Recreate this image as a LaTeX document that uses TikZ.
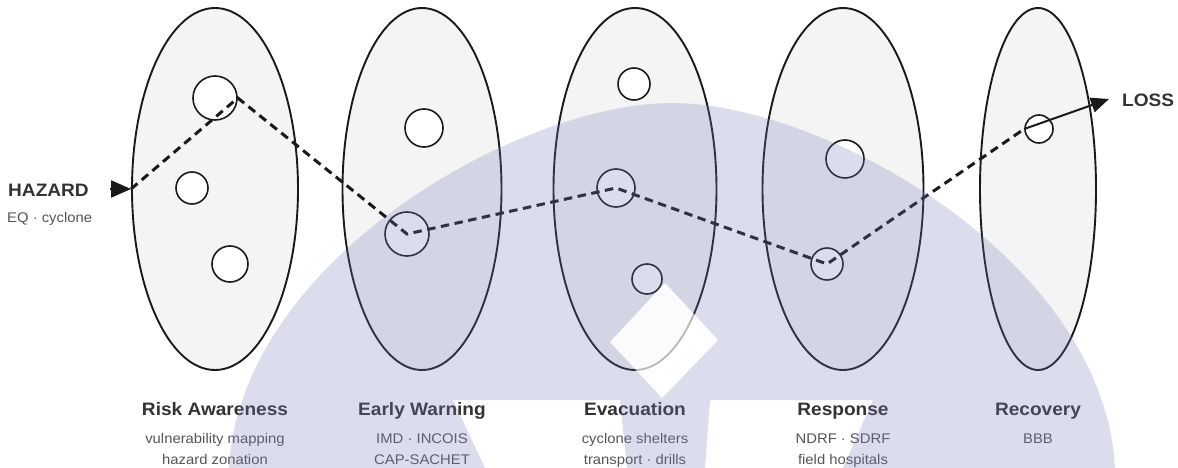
\documentclass[tikz,border=0pt]{standalone}
\usepackage{fontspec}
\setmainfont{Liberation Sans}[FakeStretch=1.06]
\usetikzlibrary{shapes.geometric,arrows.meta}
\definecolor{ink}{HTML}{1A1A1A}
\definecolor{efill}{HTML}{F4F4F4}
\definecolor{titlec}{HTML}{333333}
\definecolor{subc}{HTML}{555555}
\definecolor{wmc}{RGB}{115,123,183}
\tikzset{
  stage/.style={ellipse, draw=ink, line width=1.9pt, fill=efill, inner sep=0pt},
  dot/.style={circle, draw=ink, line width=1.6pt, fill=white, inner sep=0pt},
  route/.style={draw=ink, line width=3pt, dash pattern=on 8.5pt off 5.5pt},
  tipline/.style={draw=ink, line width=2pt, -{Triangle[length=20pt,width=17pt]}},
  title/.style={font=\bfseries\fontsize{18}{21}\selectfont, text=titlec, inner sep=0pt, anchor=base},
  sub/.style={font=\fontsize{14}{17}\selectfont, text=subc, inner sep=0pt, anchor=base},
  wm/.style={fill=wmc, fill opacity=0.25},
}
\begin{document}
\begin{tikzpicture}[x=1pt,y=-1pt]
\useasboundingbox (0,0) rectangle (1178,468);
\fill[white] (0,0) rectangle (1178,468);

% stage ellipses
\node[stage, minimum width=166pt, minimum height=362pt] (e1) at (215,189) {};
\node[stage, minimum width=159pt, minimum height=362pt] (e2) at (422,189) {};
\node[stage, minimum width=163pt, minimum height=362pt] (e3) at (635,189) {};
\node[stage, minimum width=161pt, minimum height=362pt] (e4) at (843,189) {};
\node[stage, minimum width=116pt, minimum height=362pt] (e5) at (1038,189) {};

% circles
\node[dot, minimum size=44pt] (c11) at (215,98) {};
\node[dot, minimum size=32pt] (c12) at (192,188) {};
\node[dot, minimum size=36pt] (c13) at (230,264) {};
\node[dot, minimum size=38pt] (c21) at (424,128) {};
\node[dot, minimum size=44pt] (c22) at (407,234) {};
\node[dot, minimum size=32pt] (c31) at (634,84) {};
\node[dot, minimum size=38pt] (c32) at (616,188) {};
\node[dot, minimum size=30pt] (c33) at (647,279) {};
\node[dot, minimum size=38pt] (c41) at (845,159) {};
\node[dot, minimum size=32pt] (c42) at (827,264) {};
\node[dot, minimum size=28pt] (c51) at (1039,129) {};

% route
\draw[route] (e1.west) -- (c11.east) -- (c22.center) -- (c32.center) -- (c42.center) -- (c51.west);

\coordinate (hzs) at (110,189);
\draw[tipline] (hzs) -- (e1.west);
\coordinate (lossend) at (1109,99);
\draw[tipline, -{Triangle[length=18pt,width=15pt]}] (c51.west) -- (lossend);

% end labels
\node[title, anchor=base west] (hz) at (8,196) {HAZARD};
\node[sub, anchor=base west] (hzs2) at (7,222) {EQ · cyclone};
\node[title, anchor=base west] (loss) at (1122,106.5) {LOSS};

% stage labels
\node[title] (t1) at (215,415.5) {Risk Awareness};
\node[sub] (s1a) at (215,443) {vulnerability mapping};
\node[sub] (s1b) at (215,464.5) {hazard zonation};
\node[title] (t2) at (422,415.5) {Early Warning};
\node[sub] (s2a) at (422,443) {IMD · INCOIS};
\node[sub] (s2b) at (422,464.5) {CAP-SACHET};
\node[title] (t3) at (635,415.5) {Evacuation};
\node[sub] (s3a) at (635,443) {cyclone shelters};
\node[sub] (s3b) at (635,464.5) {transport · drills};
\node[title] (t4) at (843,415.5) {Response};
\node[sub] (s4a) at (843,443) {NDRF · SDRF};
\node[sub] (s4b) at (843,464.5) {field hospitals};
\node[title] (t5) at (1038,415.5) {Recovery};
\node[sub] (s5a) at (1038,443) {BBB};

% watermark
\fill[wm, even odd rule]
  (229,468) .. controls (240,260) and (520,103) .. (672,103)
  .. controls (824,103) and (1104,260) .. (1115,468) -- cycle
  (453,400) -- (620,400) -- (627,468) -- (485,468) -- cycle
  (710,400) -- (873,400) -- (843,468) -- (705,468) -- cycle
  (665,283) -- (718,340) -- (662,398) -- (610,342) -- cycle;
\fill[white, fill opacity=0.7] (665,283) -- (718,340) -- (662,398) -- (610,342) -- cycle;
\end{tikzpicture}
\end{document}
